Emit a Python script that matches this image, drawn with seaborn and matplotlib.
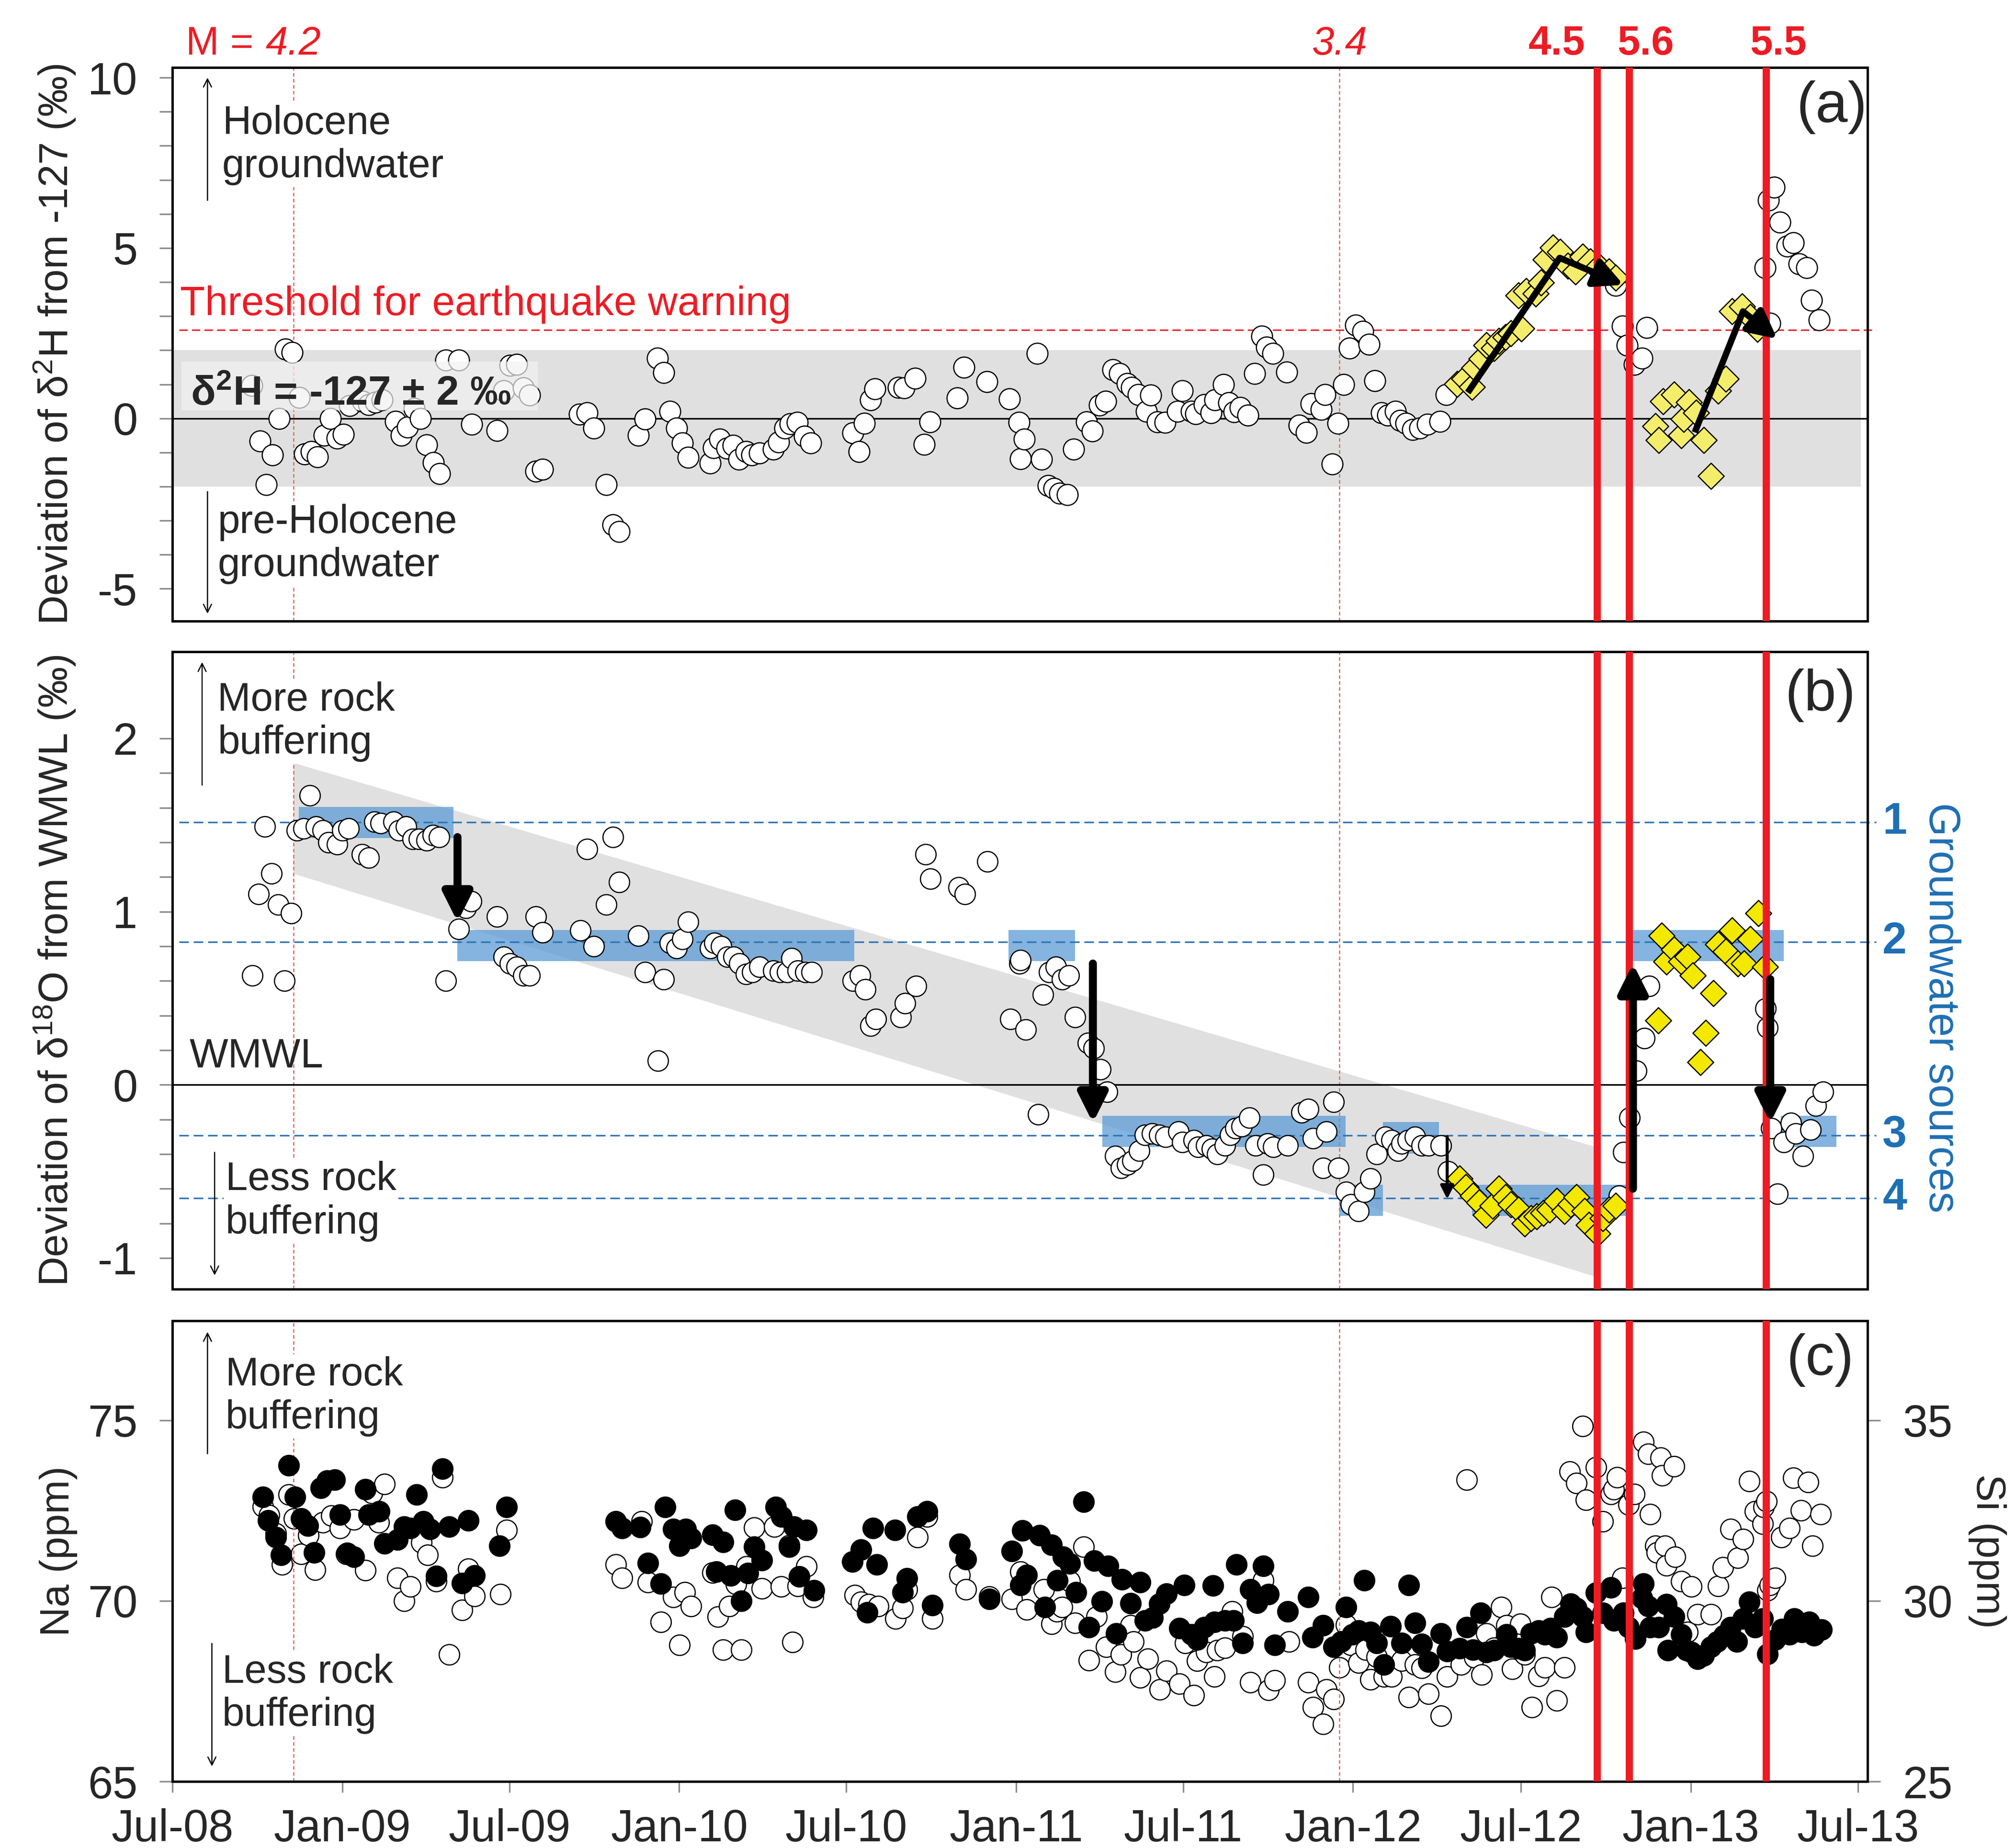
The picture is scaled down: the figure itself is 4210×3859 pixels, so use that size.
import numpy as np
import pandas as pd
import seaborn as sns
import matplotlib.pyplot as plt
import matplotlib.dates as mdates
from matplotlib.transforms import blended_transform_factory

# ---------------- data (x values are decimal years) ----------------
# (a) deviation of d2H from -127 permil
a_circ_yr = [2008.733, 2008.756, 2008.775, 2008.794, 2008.813, 2008.832, 2008.852, 2008.873, 2008.889, 2008.908,
             2008.927, 2008.946, 2008.965, 2008.984, 2009.003, 2009.022, 2009.060, 2009.078, 2009.098, 2009.118,
             2009.158, 2009.175, 2009.194, 2009.213, 2009.232, 2009.251, 2009.270, 2009.289, 2009.308, 2009.346,
             2009.384, 2009.460, 2009.479, 2009.498, 2009.517, 2009.537, 2009.556, 2009.575, 2009.594, 2009.704,
             2009.727, 2009.746, 2009.784, 2009.803, 2009.822, 2009.879, 2009.898, 2009.936, 2009.954, 2009.973,
             2009.993, 2010.010, 2010.026, 2010.092, 2010.102, 2010.121, 2010.141, 2010.160, 2010.177, 2010.198,
             2010.215, 2010.238, 2010.279, 2010.295, 2010.314, 2010.330, 2010.350, 2010.372, 2010.391, 2010.515,
             2010.534, 2010.550, 2010.568, 2010.581, 2010.651, 2010.667, 2010.700, 2010.728, 2010.744, 2010.826,
             2010.845, 2010.914, 2010.981, 2011.009, 2011.013, 2011.025, 2011.063, 2011.076, 2011.095, 2011.112,
             2011.129, 2011.152, 2011.171, 2011.209, 2011.226, 2011.248, 2011.266, 2011.288, 2011.307, 2011.330,
             2011.343, 2011.362, 2011.387, 2011.400, 2011.419, 2011.442, 2011.479, 2011.493, 2011.520, 2011.533,
             2011.559, 2011.579, 2011.590, 2011.616, 2011.632, 2011.647, 2011.666, 2011.688, 2011.708, 2011.730,
             2011.743, 2011.762, 2011.804, 2011.841, 2011.861, 2011.876, 2011.906, 2011.917, 2011.938, 2011.955,
             2011.973, 2011.990, 2012.008, 2012.029, 2012.048, 2012.065, 2012.084, 2012.103, 2012.125, 2012.140,
             2012.157, 2012.176, 2012.198, 2012.220, 2012.257, 2012.276, 2012.778, 2012.797, 2012.812, 2012.833,
             2012.855, 2012.870, 2013.220, 2013.231, 2013.247, 2013.235, 2013.264, 2013.286, 2013.304, 2013.322,
             2013.344, 2013.359, 2013.381]
a_circ_val = [0.97, -0.66, -1.94, -1.07, 0.00, 2.04, 1.94, 0.61, -1.05, -0.97,
              -1.13, -0.50, 0.00, -0.58, -0.47, 0.38, 0.50, 0.41, 0.47, 0.55,
              -0.09, -0.49, -0.26, 0.29, 0.00, -0.78, -1.30, -1.62, 1.71, 1.71,
              -0.17, -0.35, 0.81, 1.55, 1.59, 0.90, 0.68, -1.55, -1.49, 0.12,
              0.17, -0.29, -1.94, -3.12, -3.32, -0.49, -0.02, 1.76, 1.34, 0.21,
              -0.29, -0.72, -1.15, -1.31, -0.86, -0.61, -0.88, -0.79, -1.20, -0.97,
              -1.07, -1.02, -0.90, -0.70, -0.29, -0.16, -0.11, -0.53, -0.72, -0.43,
              -0.97, -0.15, 0.55, 0.87, 0.91, 0.89, 1.18, -0.77, -0.10, 0.60,
              1.50, 1.08, 0.57, -0.12, -1.18, -0.61, 1.90, -1.20, -1.97, -2.06,
              -2.20, -2.24, -0.90, -0.10, -0.37, 0.39, 0.50, 1.43, 1.32, 1.02,
              0.91, 0.70, 0.21, 0.68, -0.10, -0.11, 0.21, 0.81, 0.21, 0.14,
              0.41, 0.16, 0.54, 1.00, 0.46, 0.19, 0.32, 0.09, 1.32, 2.42,
              2.09, 1.91, 1.36, -0.20, -0.41, 0.43, 0.26, 0.70, -1.34, -0.14,
              0.99, 2.06, 2.74, 2.56, 2.18, 1.11, 0.17, 0.09, 0.20, -0.06,
              -0.14, -0.33, -0.29, -0.17, -0.09, 0.70, 3.90, 2.71, 2.15, 1.59,
              1.77, 2.67, 4.42, 6.40, 6.78, 2.79, 5.76, 5.06, 5.16, 4.54,
              4.42, 3.47, 2.89]
a_diam_yr = [2012.308, 2012.330, 2012.352, 2012.359, 2012.381, 2012.395, 2012.417, 2012.432, 2012.451, 2012.468,
             2012.498, 2012.490, 2012.512, 2012.541, 2012.556, 2012.571, 2012.592, 2012.614, 2012.636, 2012.658,
             2012.680, 2012.702, 2012.728, 2012.758, 2012.778, 2012.895, 2012.906, 2012.918, 2012.950, 2012.972,
             2012.979, 2012.994, 2013.016, 2013.038, 2013.060, 2013.082, 2013.104, 2013.123, 2013.152, 2013.177,
             2013.198]
a_diam_val = [1.01, 1.16, 0.93, 1.48, 1.75, 2.15, 2.06, 2.27, 2.39, 2.50,
              2.64, 3.61, 3.73, 3.67, 3.99, 4.66, 5.01, 4.89, 4.48, 4.31,
              4.74, 4.60, 4.46, 4.31, 4.13, -0.23, -0.64, 0.50, 0.70, -0.50,
              -0.02, 0.47, 0.17, -0.64, -1.69, 0.81, 1.16, 3.14, 3.29, 2.97,
              2.62]

# (b) deviation of d18O from WMWL
b_circ_yr = [2008.734, 2008.752, 2008.771, 2008.790, 2008.810, 2008.829, 2008.849, 2008.866, 2008.885, 2008.904,
             2008.923, 2008.942, 2008.959, 2008.984, 2009.000, 2009.019, 2009.058, 2009.078, 2009.095, 2009.114,
             2009.152, 2009.168, 2009.190, 2009.209, 2009.228, 2009.250, 2009.269, 2009.288, 2009.307, 2009.346,
             2009.367, 2009.382, 2009.459, 2009.479, 2009.498, 2009.517, 2009.537, 2009.556, 2009.575, 2009.594,
             2009.707, 2009.727, 2009.746, 2009.784, 2009.803, 2009.822, 2009.879, 2009.898, 2009.937, 2009.954,
             2009.973, 2009.993, 2010.010, 2010.026, 2010.092, 2010.105, 2010.124, 2010.143, 2010.162, 2010.179,
             2010.198, 2010.217, 2010.238, 2010.279, 2010.299, 2010.321, 2010.333, 2010.352, 2010.375, 2010.393,
             2010.515, 2010.537, 2010.553, 2010.568, 2010.584, 2010.657, 2010.670, 2010.703, 2010.731, 2010.746,
             2010.829, 2010.848, 2010.915, 2010.983, 2011.010, 2011.013, 2011.028, 2011.066, 2011.080, 2011.099,
             2011.118, 2011.137, 2011.156, 2011.175, 2011.213, 2011.231, 2011.251, 2011.270, 2011.294, 2011.311,
             2011.330, 2011.346, 2011.366, 2011.383, 2011.404, 2011.425, 2011.444, 2011.482, 2011.493, 2011.527,
             2011.540, 2011.565, 2011.581, 2011.597, 2011.620, 2011.635, 2011.651, 2011.670, 2011.693, 2011.711,
             2011.733, 2011.746, 2011.764, 2011.806, 2011.848, 2011.867, 2011.881, 2011.911, 2011.921, 2011.943,
             2011.957, 2011.979, 2011.994, 2012.016, 2012.033, 2012.052, 2012.071, 2012.096, 2012.115, 2012.133,
             2012.144, 2012.162, 2012.184, 2012.203, 2012.223, 2012.261, 2012.282, 2012.787, 2012.801, 2012.819,
             2012.838, 2012.863, 2012.877, 2013.222, 2013.228, 2013.235, 2013.239, 2013.257, 2013.276, 2013.298,
             2013.312, 2013.333, 2013.355, 2013.371, 2013.393]
b_circ_val = [0.63, 1.10, 1.49, 1.22, 1.04, 0.60, 0.99, 1.47, 1.48, 1.67,
              1.49, 1.47, 1.40, 1.39, 1.47, 1.48, 1.33, 1.31, 1.52, 1.51,
              1.52, 1.47, 1.49, 1.42, 1.42, 1.41, 1.44, 1.43, 0.60, 0.90,
              1.02, 1.06, 0.97, 0.74, 0.70, 0.68, 0.63, 0.63, 0.97, 0.88,
              0.89, 1.36, 0.80, 1.04, 1.43, 1.17, 0.86, 0.65, 0.14, 0.61,
              0.82, 0.79, 0.84, 0.94, 0.79, 0.82, 0.80, 0.74, 0.74, 0.70,
              0.64, 0.65, 0.68, 0.66, 0.65, 0.65, 0.73, 0.66, 0.65, 0.65,
              0.60, 0.63, 0.55, 0.34, 0.38, 0.39, 0.47, 0.57, 1.33, 1.19,
              1.14, 1.10, 1.29, 0.38, 0.70, 0.72, 0.32, -0.17, 0.52, 0.65,
              0.68, 0.61, 0.63, 0.39, 0.24, 0.21, 0.09, -0.04, -0.41, -0.48,
              -0.46, -0.44, -0.38, -0.29, -0.28, -0.29, -0.30, -0.27, -0.33, -0.32,
              -0.36, -0.35, -0.37, -0.40, -0.35, -0.29, -0.25, -0.24, -0.19, -0.35,
              -0.52, -0.34, -0.36, -0.35, -0.16, -0.14, -0.31, -0.48, -0.27, -0.10,
              -0.48, -0.62, -0.69, -0.73, -0.62, -0.54, -0.40, -0.30, -0.32, -0.38,
              -0.34, -0.32, -0.30, -0.35, -0.35, -0.35, -0.50, -0.64, -0.39, -0.19,
              0.08, 0.27, 0.57, 0.44, 0.33, -0.08, -0.25, -0.63, -0.33, -0.22,
              -0.28, -0.41, -0.26, -0.12, -0.04]
b_diam_yr = [2012.315, 2012.334, 2012.355, 2012.374, 2012.393, 2012.413, 2012.432, 2012.451, 2012.468, 2012.490,
             2012.509, 2012.527, 2012.544, 2012.563, 2012.582, 2012.603, 2012.626, 2012.644, 2012.661, 2012.685,
             2012.699, 2012.724, 2012.739, 2012.758, 2012.778, 2012.904, 2012.914, 2012.928, 2012.950, 2012.972,
             2012.991, 2013.006, 2013.029, 2013.045, 2013.067, 2013.082, 2013.104, 2013.123, 2013.140, 2013.158,
             2013.177, 2013.201, 2013.220]
b_diam_val = [-0.54, -0.59, -0.64, -0.68, -0.75, -0.70, -0.60, -0.65, -0.69, -0.72,
              -0.80, -0.77, -0.76, -0.74, -0.72, -0.67, -0.73, -0.69, -0.65, -0.73,
              -0.81, -0.86, -0.77, -0.72, -0.70, 0.37, 0.86, 0.71, 0.78, 0.71,
              0.74, 0.63, 0.13, 0.30, 0.53, 0.81, 0.77, 0.89, 0.70, 0.70,
              0.84, 0.99, 0.68]

# groundwater source levels and their blue bands (start, end, low, high)
source_val = [1.515, 0.824, -0.293, -0.655]
source_lab = ['1', '2', '3', '4']
box_start = [2008.871, 2009.342, 2010.978, 2011.256, 2012.089, 2011.960, 2012.352, 2012.816, 2013.267]
box_end = [2009.330, 2010.520, 2011.175, 2011.978, 2012.254, 2012.089, 2012.807, 2013.276, 2013.432]
box_low = [1.425, 0.714, 0.714, -0.360, -0.398, -0.756, -0.756, 0.714, -0.360]
box_high = [1.605, 0.894, 0.894, -0.180, -0.215, -0.578, -0.578, 0.894, -0.180]
trend_yr = [2008.855, 2012.722]
trend_high = [1.86, -0.36]
trend_low = [1.22, -1.11]

# (c) Na (left axis, filled) and Si (right axis, open)
na_yr = [2008.765, 2008.781, 2008.803, 2008.819, 2008.842, 2008.860, 2008.879, 2008.898, 2008.917, 2008.936,
         2008.955, 2008.977, 2008.993, 2009.015, 2009.035, 2009.069, 2009.078, 2009.110, 2009.126, 2009.164,
         2009.183, 2009.202, 2009.221, 2009.240, 2009.260, 2009.279, 2009.298, 2009.317, 2009.355, 2009.374,
         2009.393, 2009.467, 2009.488, 2009.812, 2009.831, 2009.885, 2009.907, 2009.945, 2009.958, 2009.982,
         2010.001, 2010.020, 2010.035, 2010.099, 2010.111, 2010.130, 2010.153, 2010.166, 2010.185, 2010.204,
         2010.223, 2010.245, 2010.286, 2010.304, 2010.327, 2010.340, 2010.356, 2010.378, 2010.401, 2010.514,
         2010.539, 2010.558, 2010.575, 2010.587, 2010.641, 2010.664, 2010.676, 2010.708, 2010.736, 2010.752,
         2010.832, 2010.851, 2010.920, 2010.987, 2011.013, 2011.019, 2011.032, 2011.070, 2011.086, 2011.105,
         2011.123, 2011.140, 2011.159, 2011.178, 2011.201, 2011.216, 2011.232, 2011.254, 2011.273, 2011.298,
         2011.315, 2011.340, 2011.368, 2011.383, 2011.406, 2011.425, 2011.447, 2011.485, 2011.499, 2011.520,
         2011.537, 2011.559, 2011.584, 2011.588, 2011.620, 2011.645, 2011.654, 2011.673, 2011.696, 2011.715,
         2011.734, 2011.749, 2011.768, 2011.806, 2011.867, 2011.880, 2011.911, 2011.943, 2011.965, 2011.979,
         2011.998, 2012.016, 2012.033, 2012.052, 2012.071, 2012.092, 2012.111, 2012.144, 2012.166, 2012.184,
         2012.203, 2012.223, 2012.261, 2012.279, 2012.315, 2012.337, 2012.355, 2012.378, 2012.395, 2012.417,
         2012.454, 2012.468, 2012.490, 2012.509, 2012.527, 2012.549, 2012.568, 2012.585, 2012.603, 2012.626,
         2012.644, 2012.661, 2012.680, 2012.690, 2012.720, 2012.739, 2012.763, 2012.772, 2012.801, 2012.816,
         2012.836, 2012.855, 2012.860, 2012.874, 2012.880, 2012.906, 2012.928, 2012.932, 2012.950, 2012.972,
         2012.987, 2013.001, 2013.020, 2013.038, 2013.060, 2013.079, 2013.099, 2013.118, 2013.137, 2013.155,
         2013.174, 2013.191, 2013.213, 2013.228, 2013.250, 2013.271, 2013.293, 2013.308, 2013.330, 2013.352,
         2013.366, 2013.388]
na_ppm = [72.87, 72.22, 71.76, 71.27, 73.75, 72.87, 72.28, 72.08, 71.34, 73.13,
          73.33, 73.35, 72.38, 71.32, 71.22, 73.08, 72.38, 72.47, 71.59, 71.69,
          72.05, 72.01, 72.94, 72.20, 71.99, 70.68, 73.65, 72.05, 70.49, 72.23,
          70.70, 71.52, 72.59, 72.20, 72.01, 72.04, 71.05, 70.47, 72.59, 71.99,
          71.52, 71.99, 71.73, 71.83, 70.81, 71.63, 70.70, 72.51, 70.00, 70.76,
          71.49, 71.13, 72.59, 72.33, 71.49, 72.05, 70.67, 71.96, 70.29, 71.08,
          71.42, 69.68, 72.01, 71.01, 71.96, 70.24, 70.62, 72.33, 72.48, 69.88,
          71.57, 71.15, 70.05, 71.37, 70.44, 71.94, 70.71, 71.81, 69.83, 71.55,
          70.57, 71.22, 71.03, 70.23, 72.74, 69.27, 71.11, 69.98, 70.96, 69.09,
          70.59, 69.93, 70.52, 69.46, 69.53, 69.92, 70.20, 69.24, 70.44, 69.07,
          68.92, 69.27, 70.42, 69.41, 69.46, 69.46, 71.01, 68.83, 70.31, 69.95,
          70.96, 70.18, 68.78, 69.71, 70.10, 68.99, 69.32, 68.73, 68.87, 69.83,
          69.07, 69.17, 70.57, 69.14, 68.83, 68.24, 69.30, 68.83, 70.44, 69.39,
          68.80, 68.32, 69.09, 68.61, 68.68, 69.27, 68.65, 69.66, 68.58, 68.63,
          69.07, 68.73, 68.68, 68.63, 69.10, 69.17, 69.07, 69.24, 68.99, 69.56,
          69.92, 69.80, 69.56, 69.14, 70.22, 69.66, 70.37, 69.46, 69.66, 69.27,
          68.95, 70.08, 70.47, 69.85, 69.27, 69.27, 69.90, 68.63, 69.56, 69.07,
          68.63, 68.58, 68.39, 68.48, 68.73, 68.87, 69.04, 69.27, 68.87, 69.51,
          69.97, 69.27, 69.51, 68.53, 68.92, 69.22, 69.07, 69.51, 69.14, 69.41,
          69.04, 69.20]
si_yr = [2008.765, 2008.784, 2008.803, 2008.822, 2008.841, 2008.857, 2008.879, 2008.900, 2008.919, 2008.942,
         2008.968, 2008.993, 2009.012, 2009.035, 2009.069, 2009.089, 2009.108, 2009.126, 2009.164, 2009.183,
         2009.202, 2009.235, 2009.254, 2009.279, 2009.298, 2009.317, 2009.355, 2009.374, 2009.393, 2009.469,
         2009.488, 2009.812, 2009.831, 2009.888, 2009.907, 2009.945, 2009.982, 2010.001, 2010.016, 2010.035,
         2010.099, 2010.114, 2010.130, 2010.149, 2010.168, 2010.185, 2010.200, 2010.223, 2010.246, 2010.283,
         2010.302, 2010.327, 2010.337, 2010.352, 2010.378, 2010.397, 2010.521, 2010.540, 2010.562, 2010.591,
         2010.642, 2010.664, 2010.676, 2010.708, 2010.736, 2010.752, 2010.832, 2010.851, 2010.920, 2010.987,
         2011.013, 2011.032, 2011.082, 2011.105, 2011.121, 2011.137, 2011.159, 2011.175, 2011.201, 2011.216,
         2011.239, 2011.267, 2011.295, 2011.311, 2011.340, 2011.349, 2011.368, 2011.391, 2011.427, 2011.447,
         2011.485, 2011.502, 2011.527, 2011.537, 2011.565, 2011.588, 2011.597, 2011.620, 2011.641, 2011.673,
         2011.696, 2011.734, 2011.749, 2011.768, 2011.810, 2011.867, 2011.881, 2011.911, 2011.921, 2011.943,
         2011.960, 2011.979, 2011.994, 2012.016, 2012.038, 2012.052, 2012.071, 2012.092, 2012.115, 2012.144,
         2012.166, 2012.184, 2012.203, 2012.223, 2012.261, 2012.279, 2012.320, 2012.337, 2012.359, 2012.381,
         2012.395, 2012.417, 2012.439, 2012.454, 2012.471, 2012.495, 2012.509, 2012.530, 2012.549, 2012.568,
         2012.588, 2012.603, 2012.626, 2012.641, 2012.661, 2012.680, 2012.690, 2012.720, 2012.739, 2012.763,
         2012.772, 2012.782, 2012.797, 2012.816, 2012.833, 2012.860, 2012.874, 2012.880, 2012.895, 2012.899,
         2012.911, 2012.915, 2012.924, 2012.928, 2012.950, 2012.954, 2012.972, 2012.991, 2013.001, 2013.020,
         2013.060, 2013.082, 2013.096, 2013.118, 2013.140, 2013.155, 2013.174, 2013.191, 2013.213, 2013.217,
         2013.225, 2013.228, 2013.235, 2013.250, 2013.269, 2013.293, 2013.305, 2013.327, 2013.349, 2013.362,
         2013.386]
si_ppm = [32.61, 32.37, 31.86, 31.00, 32.94, 32.28, 31.29, 31.81, 30.86, 32.17,
          32.35, 32.01, 31.29, 32.25, 30.85, 32.98, 32.17, 33.23, 30.64, 30.00,
          30.39, 31.61, 31.27, 30.54, 33.42, 28.51, 29.74, 30.88, 30.13, 30.18,
          31.96, 31.01, 30.64, 32.20, 30.51, 29.41, 30.10, 28.78, 30.24, 29.85,
          30.78, 29.56, 28.65, 29.85, 30.46, 28.65, 30.95, 32.03, 30.34, 32.05,
          30.39, 31.54, 28.86, 30.41, 30.95, 30.10, 30.15, 29.97, 29.90, 29.85,
          29.51, 29.80, 30.31, 31.76, 32.33, 29.51, 30.71, 30.32, 30.12, 30.05,
          30.81, 29.76, 30.31, 29.36, 29.71, 29.82, 30.54, 29.39, 31.50, 28.36,
          29.56, 28.73, 28.04, 28.51, 29.32, 28.87, 27.88, 28.39, 27.55, 28.06,
          27.70, 28.83, 27.39, 28.34, 28.58, 27.90, 28.63, 28.70, 29.71, 29.02,
          27.75, 30.57, 27.53, 27.80, 28.87, 27.75, 27.05, 26.59, 27.55, 27.28,
          28.16, 29.33, 28.78, 28.29, 28.65, 27.83, 28.45, 27.90, 27.90, 28.34,
          27.34, 28.24, 28.14, 27.43, 26.82, 27.90, 28.24, 33.35, 28.43, 27.95,
          29.09, 28.70, 29.82, 29.32, 28.11, 29.36, 28.51, 27.06, 27.92, 28.16,
          30.10, 27.24, 28.16, 33.57, 33.26, 34.84, 32.79, 33.69, 32.20, 32.95,
          33.08, 33.42, 30.64, 32.66, 32.95, 34.40, 34.06, 32.40, 31.52, 31.34,
          33.96, 33.47, 31.52, 30.98, 33.72, 31.22, 30.54, 29.14, 30.39, 29.63,
          29.63, 30.41, 30.93, 31.98, 31.19, 31.71, 33.31, 32.48, 32.13, 32.59,
          32.76, 30.29, 30.44, 30.64, 31.76, 32.01, 33.41, 32.50, 33.28, 31.52,
          32.40]

# earthquakes
quake_small_yr = [2008.855, 2011.959]
quake_big_yr = [2012.722, 2012.817, 2013.223]
quake_big_lab = ['4.5', '5.6', '5.5']


def to_dates(yrs):
    out = []
    for y in np.atleast_1d(yrs):
        yi = int(np.floor(y))
        start = pd.Timestamp(yi, 1, 1)
        out.append(start + (y - yi) * (pd.Timestamp(yi + 1, 1, 1) - start))
    return pd.DatetimeIndex(out)


def dn(y):
    return mdates.date2num(to_dates([y]))[0]


sns.set_style('white')
plt.rcParams['font.family'] = ['Liberation Sans', 'DejaVu Sans']
plt.rcParams['axes.unicode_minus'] = False
plt.rcParams['mathtext.default'] = 'regular'

RED = '#ed1c24'
BLUE = '#1f6fb4'
GRID = '#8c8c8c'
TICK_FS = 22.5
LAB_FS = 20.5
NOTE_FS = 20

df_a_c = pd.DataFrame({'date': to_dates(a_circ_yr), 'val': a_circ_val})
df_a_d = pd.DataFrame({'date': to_dates(a_diam_yr), 'val': a_diam_val})
df_b_c = pd.DataFrame({'date': to_dates(b_circ_yr), 'val': b_circ_val})
df_b_d = pd.DataFrame({'date': to_dates(b_diam_yr), 'val': b_diam_val})
df_na = pd.DataFrame({'date': to_dates(na_yr), 'val': na_ppm})
df_si = pd.DataFrame({'date': to_dates(si_yr), 'val': si_ppm})

fig = plt.figure(figsize=(4210 / 300, 3859 / 300), dpi=300)
ax1 = fig.add_axes([0.0855, 0.6639, 0.8409, 0.2996])
ax2 = fig.add_axes([0.0855, 0.3024, 0.8409, 0.3449])
ax3 = fig.add_axes([0.0855, 0.0360, 0.8409, 0.2493])
ax3r = ax3.twinx()

xlo, xhi = dn(2008.497), dn(2013.525)
xticks = mdates.date2num(pd.date_range('2008-07-01', '2013-07-01', freq='6MS'))
thin_arrow = dict(arrowstyle='->', lw=0.6, color='black', mutation_scale=10, shrinkA=0, shrinkB=0)

# ---------- panel (a) ----------
ax1.fill_between([xlo, dn(2013.505)], -2, 2, color='#e0e0e0', lw=0, zorder=1)
ax1.axhline(0, color='black', lw=0.8, zorder=2)
tr = blended_transform_factory(ax1.transAxes, ax1.transData)
ax1.plot([0.004, 1.005], [2.6, 2.6], color=RED, lw=0.7, dashes=(6, 3), transform=tr, clip_on=False, zorder=2)
sns.scatterplot(data=df_a_c, x='date', y='val', ax=ax1, marker='o', s=110, color='white',
                edgecolor='black', linewidth=0.6, zorder=4, legend=False)
sns.scatterplot(data=df_a_d, x='date', y='val', ax=ax1, marker='D', s=85, color='#f4ed6c',
                edgecolor='black', linewidth=0.6, zorder=4, legend=False)
# translucent label box over the points
ax1.fill_between([dn(2008.524), dn(2009.580)], 0.24, 1.67, color='#f2f2f2', alpha=0.7, lw=0, zorder=5)

# trend arrows in (a)
ax1.plot([dn(2012.340), dn(2012.612)], [0.76, 4.71], color='black', lw=3.2, solid_capstyle='butt', zorder=6)
ax1.annotate('', xy=(dn(2012.801), 3.92), xytext=(dn(2012.612), 4.71),
             arrowprops=dict(arrowstyle='-|>', lw=3.2, color='black', mutation_scale=30, shrinkA=0, shrinkB=0), zorder=6)
ax1.plot([dn(2013.012), dn(2013.155)], [-0.41, 3.14], color='black', lw=3.2, solid_capstyle='butt', zorder=6)
ax1.annotate('', xy=(dn(2013.257), 2.33), xytext=(dn(2013.155), 3.14),
             arrowprops=dict(arrowstyle='-|>', lw=3.2, color='black', mutation_scale=30, shrinkA=0, shrinkB=0), zorder=6)

ax1.text(dn(2008.52), 3.03, 'Threshold for earthquake warning', color=RED, fontsize=20.5, va='baseline', zorder=5)
ax1.text(dn(2008.551), 0.39, 'δ$^{2}$H = -127 ± 2 ‰', fontsize=20.5, fontweight='bold', va='baseline', zorder=7)
ax1.text(dn(2008.644), 9.2, 'Holocene\ngroundwater', fontsize=NOTE_FS, va='top',
         bbox=dict(fc='white', ec='none', pad=1), zorder=5)
ax1.text(dn(2008.631), -2.5, 'pre-Holocene\ngroundwater', fontsize=NOTE_FS, va='top',
         bbox=dict(fc='white', ec='none', pad=1), zorder=5)
ax1.annotate('', xy=(dn(2008.601), 10.0), xytext=(dn(2008.601), 6.4), arrowprops=thin_arrow)
ax1.annotate('', xy=(dn(2008.601), -5.73), xytext=(dn(2008.601), -2.15), arrowprops=thin_arrow)
ax1.text(0.979, 0.928, '(a)', transform=ax1.transAxes, fontsize=29, ha='center', va='center')

ax1.set_ylim(-5.95, 10.3)
ax1.set_yticks([-5, 0, 5, 10])
ax1.set_yticks(np.arange(-5, 11, 1), minor=True)
ax1.set_ylabel('Deviation of δ$^{2}$H from -127 (‰)', fontsize=LAB_FS)

# magnitude labels
trt = blended_transform_factory(ax1.transData, ax1.transAxes)
ax1.text(dn(quake_small_yr[0]), 1.023, '4.2', transform=trt, color=RED, fontsize=20, style='italic',
         ha='center', va='baseline', clip_on=False)
ax1.annotate('M = ', xy=(dn(quake_small_yr[0]), 1.023), xycoords=trt, xytext=(-14.5, 0),
             textcoords='offset points', color=RED, fontsize=20, ha='right', va='baseline')
ax1.text(dn(quake_small_yr[1]), 1.023, '3.4', transform=trt, color=RED, fontsize=20, style='italic',
         ha='center', va='baseline', clip_on=False)
for lx, lab in zip([2012.604, 2012.866, 2013.260], quake_big_lab):
    ax1.text(dn(lx), 1.023, lab, transform=trt, color=RED, fontsize=20.5, fontweight='bold',
             ha='center', va='baseline', clip_on=False)

# ---------- panel (b) ----------
ax2.fill_between([dn(trend_yr[0]), dn(trend_yr[1])], trend_low, trend_high, color='#e0e0e0', lw=0, zorder=1)
for x0, x1, y0, y1 in zip(box_start, box_end, box_low, box_high):
    ax2.fill_between([dn(x0), dn(x1)], y0, y1, color='#5b9bd5', alpha=0.75, lw=0, zorder=2)
ax2.axhline(0, color='black', lw=0.8, zorder=2)
trb = blended_transform_factory(ax2.transAxes, ax2.transData)
for v, lab in zip(source_val, source_lab):
    ax2.plot([0.004, 1.005], [v, v], color='#2e75b6', lw=0.8, dashes=(6, 3), transform=trb,
             clip_on=False, zorder=2)
    ax2.text(1.016, v, lab, transform=trb, color=BLUE, fontsize=22, fontweight='bold', ha='center', va='center')
ax2.text(1.043, 0.442, 'Groundwater sources', transform=ax2.transAxes, color=BLUE, fontsize=21.5,
         rotation=-90, ha='center', va='center')
sns.scatterplot(data=df_b_c, x='date', y='val', ax=ax2, marker='o', s=105, color='white',
                edgecolor='black', linewidth=0.6, zorder=4, legend=False)
sns.scatterplot(data=df_b_d, x='date', y='val', ax=ax2, marker='D', s=85, color='#f2e800',
                edgecolor='black', linewidth=0.6, zorder=4, legend=False)

for xa, ys, ye in [(2009.342, 1.43, 0.94), (2011.228, 0.70, -0.22), (2012.829, -0.60, 0.70), (2013.236, 0.61, -0.22)]:
    ax2.annotate('', xy=(dn(xa), ye), xytext=(dn(xa), ys),
                 arrowprops=dict(arrowstyle='-|>', lw=4, color='black', mutation_scale=30, shrinkA=0, shrinkB=0),
                 zorder=6)
ax2.annotate('', xy=(dn(2012.279), -0.66), xytext=(dn(2012.279), -0.30),
             arrowprops=dict(arrowstyle='-|>', lw=1.5, color='black', mutation_scale=14, shrinkA=0, shrinkB=0),
             zorder=6)

ax2.text(dn(2008.631), 2.33, 'More rock\nbuffering', fontsize=NOTE_FS, va='top',
         bbox=dict(fc='white', ec='none', pad=1), zorder=5)
ax2.text(dn(2008.654), -0.44, 'Less rock\nbuffering', fontsize=NOTE_FS, va='top',
         bbox=dict(fc='white', ec='none', pad=1), zorder=5)
ax2.text(dn(2008.547), 0.10, 'WMWL', fontsize=20.5, va='baseline', zorder=5)
ax2.annotate('', xy=(dn(2008.585), 2.44), xytext=(dn(2008.585), 1.73), arrowprops=thin_arrow)
ax2.annotate('', xy=(dn(2008.622), -1.10), xytext=(dn(2008.622), -0.39), arrowprops=thin_arrow)
ax2.text(0.972, 0.932, '(b)', transform=ax2.transAxes, fontsize=29, ha='center', va='center')

ax2.set_ylim(-1.18, 2.5)
ax2.set_yticks([-1, 0, 1, 2])
ax2.set_yticks(np.arange(-1, 2.01, 0.2), minor=True)
ax2.set_ylabel('Deviation of δ$^{18}$O from WMWL (‰)', fontsize=LAB_FS)

# ---------- panel (c) ----------
sns.scatterplot(data=df_si, x='date', y='val', ax=ax3r, marker='o', s=105, color='white',
                edgecolor='black', linewidth=0.6, zorder=3, legend=False)
sns.scatterplot(data=df_na, x='date', y='val', ax=ax3, marker='o', s=105, color='black',
                edgecolor='black', linewidth=0.6, zorder=4, legend=False)
ax3.set_zorder(ax3r.get_zorder() + 1)
ax3.patch.set_visible(False)

ax3.text(dn(2008.654), 76.77, 'More rock\nbuffering', fontsize=NOTE_FS, va='top',
         bbox=dict(fc='white', ec='none', pad=1), zorder=5)
ax3.text(dn(2008.644), 68.54, 'Less rock\nbuffering', fontsize=NOTE_FS, va='top',
         bbox=dict(fc='white', ec='none', pad=1), zorder=5)
ax3.annotate('', xy=(dn(2008.601), 77.44), xytext=(dn(2008.601), 74.07), arrowprops=thin_arrow)
ax3.annotate('', xy=(dn(2008.614), 65.42), xytext=(dn(2008.614), 68.82), arrowprops=thin_arrow)
ax3.text(0.972, 0.915, '(c)', transform=ax3.transAxes, fontsize=29, ha='center', va='center')

ax3.set_ylim(65, 77.75)
ax3.set_yticks([65, 70, 75])
ax3r.set_ylim(25, 37.75)
ax3r.set_yticks([25, 30, 35])
ax3.set_ylabel('Na (ppm)', fontsize=LAB_FS)
ax3r.set_ylabel('Si (ppm)', fontsize=LAB_FS, rotation=270)
ax3r.yaxis.set_label_coords(1.082, 0.5)

# ---------- common styling ----------
for ax in (ax1, ax2, ax3):
    for q in quake_small_yr:
        ax.axvline(dn(q), color='#e06666', lw=0.6, dashes=(3, 2), zorder=1.5)
    for q in quake_big_yr:
        ax.axvline(dn(q), color=RED, lw=3.6, zorder=5.5)
    ax.set_xlim(xlo, xhi)
    ax.set_xticks(xticks)
    ax.set_xlabel('')
    ax.yaxis.set_label_coords(-0.056, 0.5)
    ax.tick_params(axis='y', which='both', direction='out', color=GRID, length=6.5, width=0.8,
                   labelsize=TICK_FS, pad=11, left=True)
    for sp in ax.spines.values():
        sp.set_color('black')
        sp.set_linewidth(1.2)

for ax in (ax1, ax2):
    ax.tick_params(axis='x', which='both', length=0, labelbottom=False)

ax3.xaxis.set_major_formatter(mdates.DateFormatter('%b-%y'))
ax3.tick_params(axis='x', direction='out', color=GRID, length=5.5, width=0.8, labelsize=TICK_FS, pad=8, bottom=True)
ax3r.set_xlim(xlo, xhi)
ax3r.set_xlabel('')
ax3r.tick_params(axis='y', direction='out', color=GRID, length=6.5, width=0.8, labelsize=TICK_FS, pad=11, right=True)
for sp in ax3r.spines.values():
    sp.set_linewidth(1.2)

fig.savefig('out.png', dpi=300)
